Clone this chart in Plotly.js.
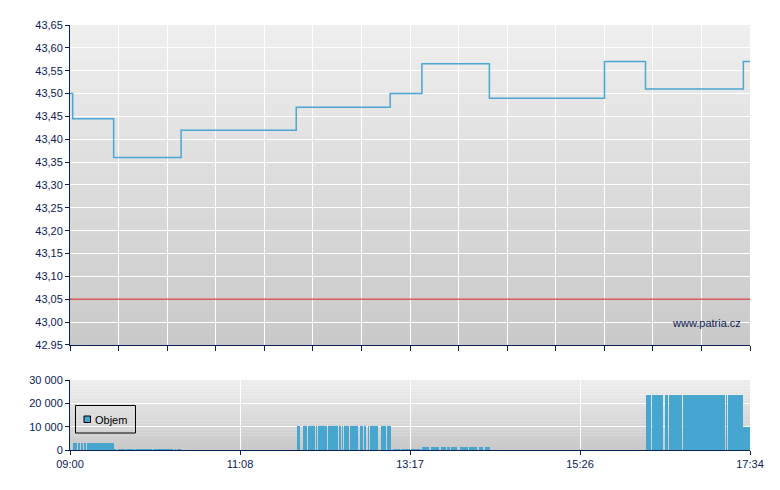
<!DOCTYPE html>
<html>
<head>
<meta charset="utf-8">
<script src="https://cdn.plot.ly/plotly-3.0.1.min.js"></script>
<style>
  html, body { margin: 0; padding: 0; background: #ffffff; }
  #chart { width: 780px; height: 490px; }
</style>
</head>
<body>
<div id="chart"></div>
<script>
// ---- data ----
const day = '2024-01-15 ';

// price (step line)
const priceTimes = ['09:00','09:02','09:33','10:24','11:51','13:02','13:26','14:17','15:44','16:15','17:29','17:34'];
const prices     = [43.50, 43.445, 43.36, 43.42, 43.47, 43.50, 43.565, 43.49, 43.57, 43.51, 43.57, 43.57];

// previous close reference line
const prevClose = 43.05;

// volume runs (start, end, volume)
const volStart = [
  '09:02:00','09:05:45','09:08:15','09:10:25','09:12:55',
  '09:33:00','09:36:00','09:42:30','09:49:00','10:03:00','10:19:00','10:21:00',
  '11:51:24','11:55:54','11:59:42','12:03:54','12:06:00','12:07:30','12:14:48','12:23:36','12:25:24',
  '12:27:24','12:29:36','12:31:36','12:39:12','12:42:12','12:45:00','12:46:30','12:55:00','12:59:36',
  '13:03:54','13:10:30','13:18:00',
  '13:25:48','13:32:36','13:40:12','13:45:12','13:48:12','13:54:48','14:01:36','14:08:54','14:13:24',
  '16:15:24','16:19:54','16:29:42','16:32:42','16:43:06','17:15:48','17:17:06',
  '17:28:24'
];
const volEnd = [
  '09:05:00','09:07:30','09:09:40','09:12:10','09:33:00',
  '09:35:00','09:41:30','09:48:00','10:02:00','10:18:00','10:20:00','10:24:00',
  '11:53:54','11:58:54','12:03:30','12:05:12','12:07:00','12:14:00','12:22:48','12:24:48','12:26:36',
  '12:29:06','12:31:06','12:37:54','12:41:12','12:44:00','12:46:00','12:53:00','12:58:54','13:02:36',
  '13:09:30','13:17:00','13:25:18',
  '13:31:36','13:39:12','13:44:12','13:47:12','13:52:12','14:00:36','14:07:54','14:12:24','14:17:24',
  '16:19:06','16:28:12','16:31:54','16:42:24','17:15:06','17:16:36','17:28:24',
  '17:34:00'
];
const volValue = [
  3100,3100,3100,3100,3100,
  500,500,500,500,500,500,500,
  10300,10300,10300,10300,10300,10300,10300,10300,10300,
  10300,10300,10300,10300,10300,10300,10300,10300,10300,
  430,430,430,
  1300,1300,1300,1300,1300,1300,1300,1300,1300,
  23600,23600,23600,23600,23600,23600,23600,
  9900
];
const volName = 'Objem';

// axis ticks
const priceTickVals = [42.95,43.00,43.05,43.10,43.15,43.20,43.25,43.30,43.35,43.40,43.45,43.50,43.55,43.60,43.65];
const priceTickText = ['42.95','43,00','43,05','43,10','43,15','43,20','43,25','43,30','43,35','43,40','43,45','43,50','43,55','43,60','43,65'];
const timeTickVals  = ['09:00:00','11:08:30','13:17:00','15:25:30','17:34:00'];
const timeTickText  = ['09:00','11:08','13:17','15:26','17:34'];
const volTickVals   = [0, 10000, 20000, 30000];
const volTickText   = ['0','10 000','20 000','30 000'];
const sessionStart = '09:00';
const sessionEnd   = '17:34';
const topDivisions = 14;

// ---- build ----
const navy = '#0b2155';
const blue = '#47a6cf';
const fam = 'Liberation Sans, Arial, sans-serif';
const toDate = t => day + t;
const ms = t => new Date((day + t).replace(' ', 'T')).getTime();

const priceTrace = {
  type: 'scatter', mode: 'lines',
  x: priceTimes.map(toDate), y: prices,
  line: { color: '#4aa6d4', width: 1.5, shape: 'hv' },
  xaxis: 'x', yaxis: 'y', showlegend: false, hoverinfo: 'skip'
};

const volTrace = {
  type: 'bar', name: volName,
  x: volStart.map(toDate),
  y: volValue,
  width: volStart.map((s, i) => ms(volEnd[i]) - ms(s)),
  offset: 0,
  marker: { color: blue, line: { width: 0 } },
  xaxis: 'x2', yaxis: 'y2', showlegend: false, hoverinfo: 'skip'
};

// gradient background bands
const shapes = [];
function addGradient(xr, yr, cTop, cBot, n) {
  for (let i = 0; i < n; i++) {
    const f = (i + 0.5) / n;
    const c = Math.round(cBot + (cTop - cBot) * f);
    shapes.push({
      type: 'rect', layer: 'below',
      xref: xr + ' domain', yref: yr + ' domain',
      x0: 0, x1: 1, y0: i / n, y1: Math.min(1, (i + 1) / n + 0.003),
      fillcolor: `rgb(${c},${c},${c})`, line: { width: 0 }
    });
  }
}
addGradient('x', 'y', 239, 201, 60);
addGradient('x2', 'y2', 238, 201, 24);

// previous close line
shapes.push({
  type: 'line', xref: 'x domain', yref: 'y',
  x0: 0, x1: 1, y0: prevClose, y1: prevClose,
  line: { color: 'rgba(212,62,62,0.85)', width: 1.4 }
});

// legend box (drawn to match the compact original legend)
shapes.push({
  type: 'rect', xref: 'x2 domain', yref: 'y2 domain',
  xsizemode: 'pixel', ysizemode: 'pixel', xanchor: 0, yanchor: 1,
  x0: 5.5, x1: 65.5, y0: -53, y1: -25.5,
  line: { color: '#000000', width: 1 }, fillcolor: 'rgba(0,0,0,0)'
});
shapes.push({
  type: 'rect', xref: 'x2 domain', yref: 'y2 domain',
  xsizemode: 'pixel', ysizemode: 'pixel', xanchor: 0, yanchor: 1,
  x0: 14, x1: 20.5, y0: -42.5, y1: -36,
  line: { color: '#000000', width: 1 }, fillcolor: blue
});

const tickFont = { family: fam, size: 11, color: navy };
const range = [toDate(sessionStart), toDate(sessionEnd)];
const dtickMs = (ms(sessionEnd) - ms(sessionStart)) / topDivisions;

const layout = {
  width: 780, height: 490,
  margin: { l: 70, r: 30, t: 25, b: 40 },
  paper_bgcolor: '#ffffff',
  plot_bgcolor: 'rgba(0,0,0,0)',
  showlegend: false,
  bargap: 0,
  font: tickFont,
  xaxis: {
    domain: [0, 1], anchor: 'y', type: 'date', range: range,
    tick0: toDate(sessionStart), dtick: dtickMs,
    showticklabels: false, ticks: 'outside', ticklen: 5, tickcolor: navy, tickwidth: 1,
    showgrid: true, gridcolor: '#ffffff', gridwidth: 1,
    showline: true, linecolor: navy, linewidth: 1, zeroline: false, fixedrange: true
  },
  yaxis: {
    domain: [0.2471, 1], anchor: 'x', range: [42.95, 43.65],
    tickmode: 'array', tickvals: priceTickVals, ticktext: priceTickText,
    ticks: 'outside', ticklen: 4, tickcolor: navy, tickwidth: 1, tickfont: tickFont,
    showgrid: true, gridcolor: '#ffffff', gridwidth: 1,
    showline: true, linecolor: navy, linewidth: 1, zeroline: false, fixedrange: true
  },
  xaxis2: {
    domain: [0, 1], anchor: 'y2', type: 'date', range: range,
    tickmode: 'array', tickvals: timeTickVals.map(toDate), ticktext: timeTickText,
    ticks: 'outside', ticklen: 4, tickcolor: navy, tickwidth: 1, tickfont: tickFont,
    showgrid: true, gridcolor: '#ffffff', gridwidth: 1,
    showline: true, linecolor: navy, linewidth: 1, zeroline: false, fixedrange: true
  },
  yaxis2: {
    domain: [0, 0.1647], anchor: 'x2', range: [0, 30000],
    tickmode: 'array', tickvals: volTickVals, ticktext: volTickText,
    ticks: 'outside', ticklen: 4, tickcolor: navy, tickwidth: 1, tickfont: tickFont,
    showgrid: true, gridcolor: '#ffffff', gridwidth: 1,
    showline: true, linecolor: navy, linewidth: 1, zeroline: false, fixedrange: true
  },
  shapes: shapes,
  annotations: [{
    text: 'www.patria.cz', showarrow: false,
    xref: 'x domain', yref: 'y domain', x: 0.99, y: 0.069,
    xanchor: 'right', yanchor: 'middle',
    font: { family: fam, size: 11, color: navy }
  }, {
    text: volName, showarrow: false,
    xref: 'x2 domain', yref: 'y2 domain', x: 0, y: 1,
    xanchor: 'left', yanchor: 'middle', xshift: 23, yshift: -39.5,
    font: { family: fam, size: 11, color: '#000000' }
  }]
};

Plotly.newPlot('chart', [volTrace, priceTrace], layout, { displayModeBar: false, staticPlot: true });
</script>
</body>
</html>
